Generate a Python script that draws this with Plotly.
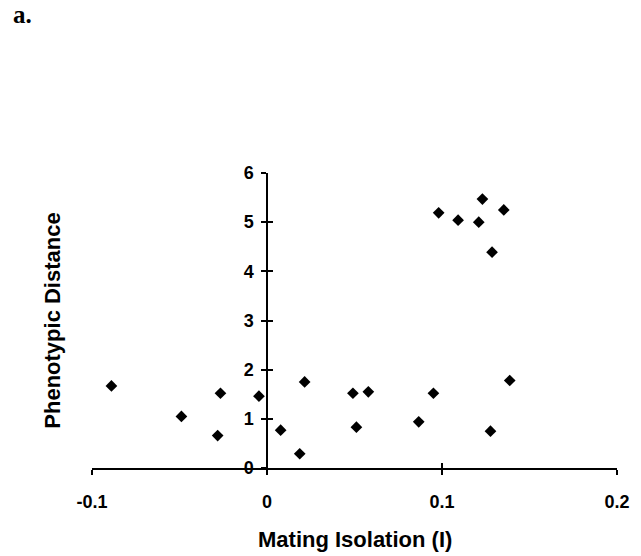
import plotly.graph_objects as go

mating_isolation = [-0.0889, -0.0489, -0.0266, -0.0282, -0.0046, 0.0078, 0.0187, 0.0215,
                    0.0491, 0.0511, 0.0579, 0.0867, 0.0951, 0.0981, 0.1092, 0.1231,
                    0.1210, 0.1353, 0.1286, 0.1387, 0.1277]
phenotypic_distance = [1.67, 1.05, 1.52, 0.66, 1.46, 0.77, 0.29, 1.75,
                       1.52, 0.83, 1.55, 0.94, 1.52, 5.19, 5.04, 5.47,
                       5.00, 5.25, 4.39, 1.78, 0.75]
x_ticks = [-0.1, 0, 0.1, 0.2]
x_tick_labels = ["-0.1", "0", "0.1", "0.2"]
y_ticks = [0, 1, 2, 3, 4, 5, 6]

FONT = "Liberation Sans, Arial, sans-serif"
tickfont = dict(family=FONT, size=18, color="black", weight="bold")

fig = go.Figure()
fig.add_trace(go.Scatter(
    x=mating_isolation, y=phenotypic_distance, mode="markers",
    marker=dict(symbol="diamond", size=9, color="black"),
    showlegend=False, hoverinfo="x+y"))

common_x = dict(range=[-0.1, 0.2], tickvals=x_ticks, showgrid=False, zeroline=False,
                showline=True, linecolor="black", linewidth=1.5,
                tickcolor="black", tickwidth=1.5, ticklen=5)
common_y = dict(range=[0, 6], tickvals=y_ticks, showgrid=False, zeroline=False,
                showline=True, linecolor="black", linewidth=1.5,
                tickcolor="black", tickwidth=1.5, ticklen=5,
                anchor="free", position=1/3)

fig.update_layout(
    width=641, height=556,
    margin=dict(l=92.3, r=23.7, t=173.3, b=87.7),
    paper_bgcolor="white", plot_bgcolor="white",
    xaxis=dict(**common_x, ticks="outside", ticktext=x_tick_labels,
               tickfont=tickfont, ticklabelstandoff=12),
    xaxis2=dict(**common_x, ticks="inside", showticklabels=False,
                overlaying="x", anchor="y"),
    yaxis=dict(**common_y, ticks="outside", tickfont=tickfont, ticklabelstandoff=4),
    yaxis2=dict(**common_y, ticks="inside", showticklabels=False, overlaying="y"),
    annotations=[
        dict(text="Mating Isolation (I)", xref="paper", yref="paper",
             x=0.5, y=-0.243, showarrow=False, xanchor="center", yanchor="middle",
             font=dict(family=FONT, size=22, color="black", weight="bold")),
        dict(text="Phenotypic Distance", xref="paper", yref="paper",
             x=-0.0758, y=0.5, showarrow=False, textangle=-90,
             xanchor="center", yanchor="middle",
             font=dict(family=FONT, size=22, color="black", weight="bold")),
        dict(text="a.", xref="paper", yref="paper", x=-0.152, y=1.585,
             showarrow=False, xanchor="left", yanchor="top", borderpad=0,
             font=dict(family="Liberation Serif, Times New Roman, serif", size=25,
                       color="black", weight="bold")),
    ],
)
fig.add_trace(go.Scatter(x=mating_isolation, y=phenotypic_distance, xaxis="x2", yaxis="y2",
                         mode="markers", marker=dict(opacity=0), showlegend=False,
                         hoverinfo="skip"))

fig.write_html("out.html", config={"displayModeBar": False},
               post_script="document.body.style.margin='0';document.documentElement.style.overflow='hidden';")
